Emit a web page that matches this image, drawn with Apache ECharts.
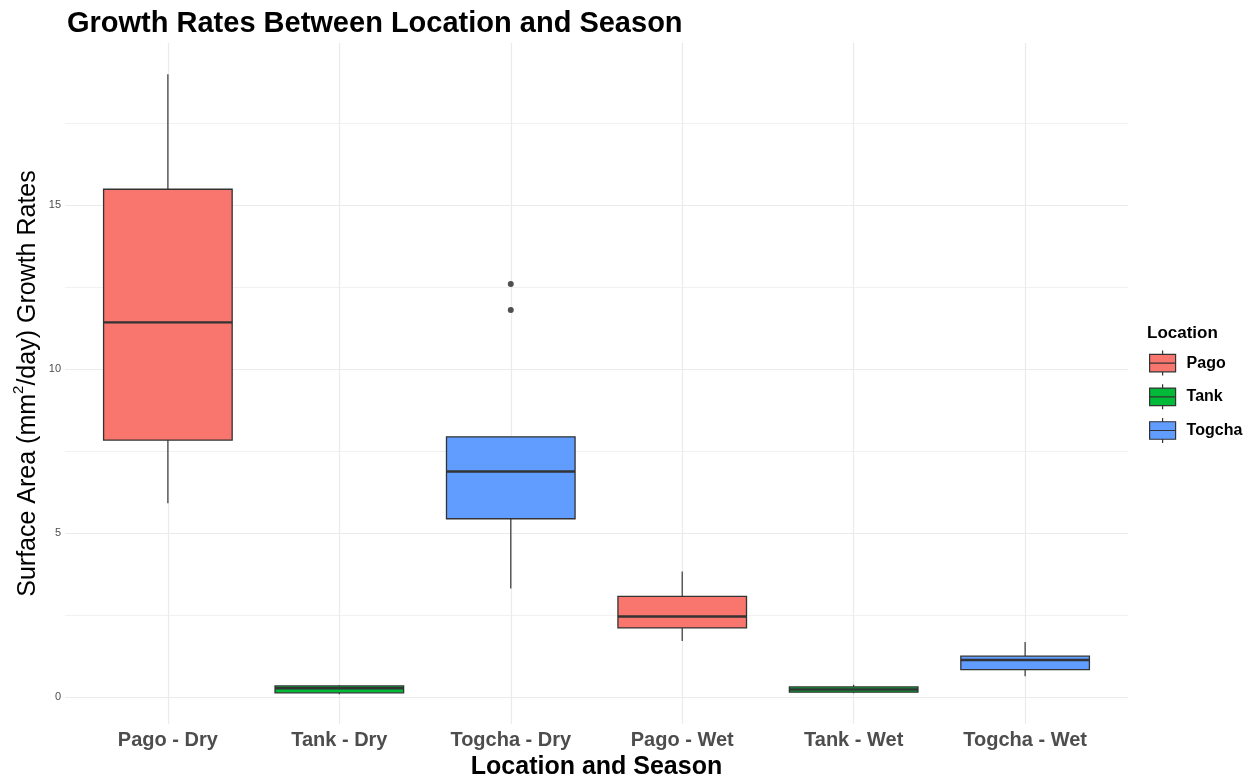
<!DOCTYPE html>
<html>
<head>
<meta charset="utf-8">
<script src="https://cdn.jsdelivr.net/npm/echarts@6/dist/echarts.min.js"></script>
<style>
  html, body { margin: 0; padding: 0; background: #ffffff; }
  #chart { width: 1258px; height: 780px; }
</style>
</head>
<body>
<div id="chart"></div>
<script>
// Growth-rate summaries (mm^2/day) per location and season
const categories = ['Pago - Dry', 'Tank - Dry', 'Togcha - Dry', 'Pago - Wet', 'Tank - Wet', 'Togcha - Wet'];
const categoryLocation = ['Pago', 'Tank', 'Togcha', 'Pago', 'Tank', 'Togcha'];
const locations = ['Pago', 'Tank', 'Togcha'];

const whiskerLow  = [5.91, 0.09, 3.31, 1.71, 0.12, 0.64];
const quartile1   = [7.84, 0.13, 5.44, 2.11, 0.15, 0.84];
const medians     = [11.43, 0.27, 6.88, 2.46, 0.23, 1.13];
const quartile3   = [15.49, 0.34, 7.94, 3.07, 0.31, 1.25];
const whiskerHigh = [19.00, 0.36, 7.94, 3.83, 0.38, 1.68];

const outlierCategory = ['Togcha - Dry', 'Togcha - Dry'];
const outlierValues   = [12.60, 11.81];

const majorTicks = [0, 5, 10, 15];
const minorTicks = [2.5, 7.5, 12.5, 17.5];

const yMin = -0.82;
const yMax = 19.95;

const FONT = "'Liberation Sans', Arial, Helvetica, sans-serif";
const palette = { Pago: '#F8766D', Tank: '#00BA38', Togcha: '#619CFF' };
const outline = '#333333';
const gridColor = '#EBEBEB';

// box with whiskers (no caps) and a heavier median line
function renderBox(params, api) {
  const x = api.value(0);
  const lo = api.coord([x, api.value(1)]);
  const q1 = api.coord([x, api.value(2)]);
  const md = api.coord([x, api.value(3)]);
  const q3 = api.coord([x, api.value(4)]);
  const hi = api.coord([x, api.value(5)]);
  const bw = api.size([1, 0])[0] * 0.75;
  const cx = md[0];
  const fill = api.visual('color');
  return {
    type: 'group',
    children: [
      { type: 'line', shape: { x1: cx, y1: hi[1], x2: cx, y2: q3[1] },
        style: { stroke: '#444444', lineWidth: 1.3 } },
      { type: 'line', shape: { x1: cx, y1: q1[1], x2: cx, y2: lo[1] },
        style: { stroke: '#444444', lineWidth: 1.3 } },
      { type: 'rect', shape: { x: cx - bw / 2, y: q3[1], width: bw, height: q1[1] - q3[1] },
        style: { fill: fill, stroke: outline, lineWidth: 1.3 } },
      { type: 'line', shape: { x1: cx - bw / 2, y1: md[1], x2: cx + bw / 2, y2: md[1] },
        style: { stroke: outline, lineWidth: 2.4 } }
    ]
  };
}

const boxSeries = locations.map(function (loc) {
  const rows = [];
  categories.forEach(function (c, i) {
    if (categoryLocation[i] === loc) {
      rows.push([i, whiskerLow[i], quartile1[i], medians[i], quartile3[i], whiskerHigh[i]]);
    }
  });
  return {
    name: loc,
    type: 'custom',
    xAxisIndex: 1,
    yAxisIndex: 1,
    renderItem: renderBox,
    itemStyle: { color: palette[loc] },
    encode: { x: 0, y: [1, 2, 3, 4, 5] },
    data: rows,
    z: 3
  };
});

const gridLines = [].concat(
  majorTicks.map(function (v) {
    return {
      yAxis: v,
      lineStyle: { color: gridColor, width: 1.2, type: 'solid' },
      label: { show: true, position: 'start', formatter: String(v), distance: 4,
               color: '#4D4D4D', fontSize: 11, fontFamily: FONT }
    };
  }),
  minorTicks.map(function (v) {
    return { yAxis: v, lineStyle: { color: gridColor, width: 0.7, type: 'solid' }, label: { show: false } };
  }),
  categories.map(function (c, i) {
    return { xAxis: i, lineStyle: { color: gridColor, width: 1.2, type: 'solid' }, label: { show: false } };
  })
);

const legendIcon = 'path://M0,3.75H26V21.25H0Z M0,12.5H26 M13,0V3.75 M13,21.25V25';

const option = {
  animation: false,
  backgroundColor: '#ffffff',
  title: [
    {
      text: 'Growth Rates Between Location and Season',
      left: 62, top: 4,
      textStyle: { fontFamily: FONT, fontSize: 29, fontWeight: 'bold', color: '#000000' }
    },
    {
      text: 'Location',
      left: 1142, top: 320,
      textStyle: { fontFamily: FONT, fontSize: 17, fontWeight: 'bold', color: '#000000' }
    }
  ],
  legend: {
    orient: 'vertical',
    left: 1144,
    top: 345,
    itemWidth: 26,
    itemHeight: 25,
    itemGap: 7.5,
    data: locations.map(function (loc) { return { name: loc, icon: legendIcon }; }),
    itemStyle: { borderColor: outline, borderWidth: 1.2 },
    textStyle: { fontFamily: FONT, fontSize: 16, fontWeight: 'bold', color: '#000000', padding: [0, 0, 0, 6] },
    selectedMode: false
  },
  grid: [
    { left: 65, right: 130, top: 43, bottom: 56, outerBoundsMode: 'none' },
    { left: 82.15, right: 147.15, top: 43, bottom: 56, outerBoundsMode: 'none' }
  ],
  xAxis: [
    { type: 'value', gridIndex: 0, min: -0.6, max: 5.6, show: false },
    {
      type: 'category', gridIndex: 1, data: categories,
      axisLine: { show: false }, axisTick: { show: false }, splitLine: { show: false },
      axisLabel: { margin: 6, fontFamily: FONT, fontSize: 20, fontWeight: 'bold', color: '#4D4D4D' },
      name: 'Location and Season', nameLocation: 'middle', nameGap: 18,
      nameTextStyle: { fontFamily: FONT, fontSize: 25, fontWeight: 'bold', color: '#000000' }
    }
  ],
  yAxis: [
    {
      type: 'value', gridIndex: 0, min: yMin, max: yMax,
      axisLine: { show: false }, axisTick: { show: false }, axisLabel: { show: false },
      splitLine: { show: false },
      name: '{n|Surface Area (mm}{s|2}{n|/day) Growth Rates}',
      nameLocation: 'middle', nameRotate: 90, nameGap: 20,
      nameTextStyle: {
        fontFamily: FONT, color: '#000000',
        rich: {
          n: { fontFamily: FONT, fontSize: 25, lineHeight: 34, color: '#000000' },
          s: { fontFamily: FONT, fontSize: 15, lineHeight: 15, verticalAlign: 'top', color: '#000000' }
        }
      }
    },
    { type: 'value', gridIndex: 1, min: yMin, max: yMax, show: false }
  ],
  series: [
    {
      name: 'grid',
      type: 'line',
      xAxisIndex: 0,
      yAxisIndex: 0,
      data: [],
      silent: true,
      z: 0,
      markLine: { silent: true, z: 0, symbol: ['none', 'none'], animation: false, data: gridLines }
    }
  ].concat(boxSeries).concat([
    {
      name: 'outliers',
      type: 'scatter',
      xAxisIndex: 1,
      yAxisIndex: 1,
      symbol: 'circle',
      symbolSize: 6,
      itemStyle: { color: '#262626' },
      data: outlierCategory.map(function (c, i) { return [c, outlierValues[i]]; }),
      z: 4
    }
  ])
};

const chart = echarts.init(document.getElementById('chart'), null, { renderer: 'canvas' });
chart.setOption(option);
</script>
</body>
</html>
